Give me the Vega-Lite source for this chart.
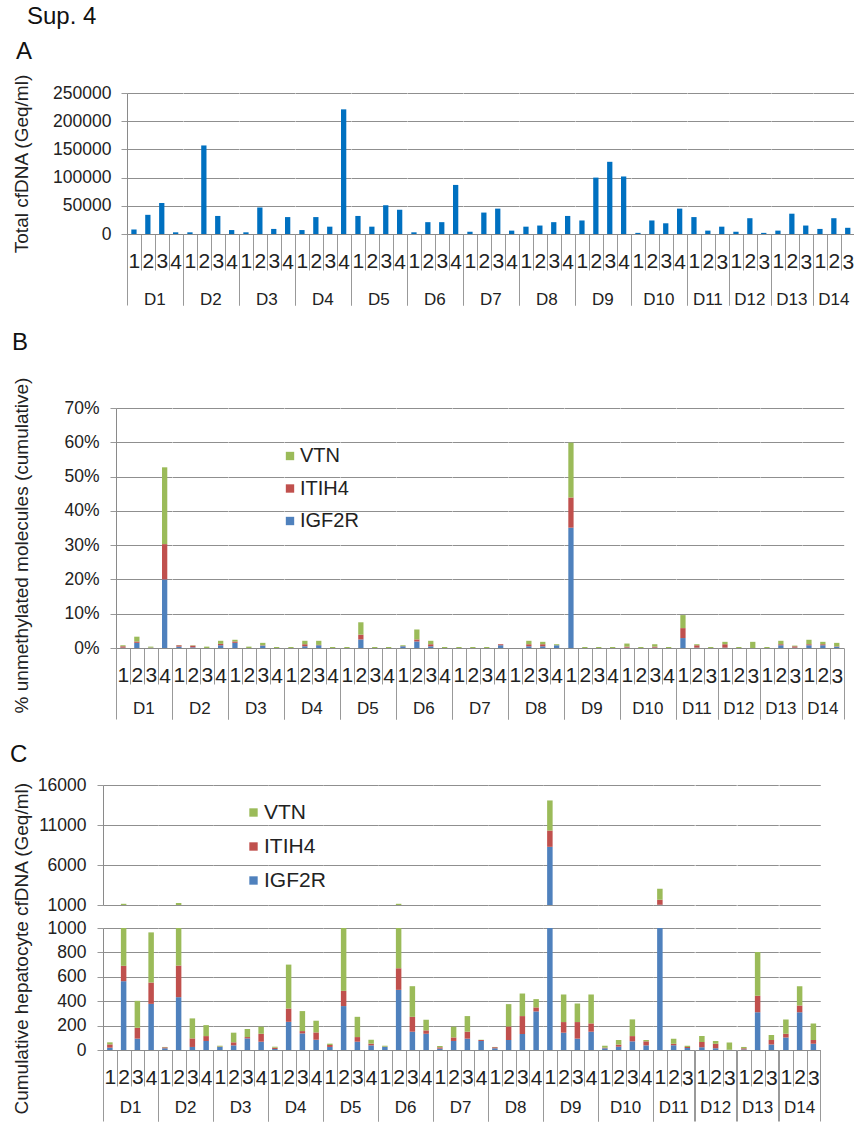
{
 "$schema": "https://vega.github.io/schema/vega-lite/v6.json",
 "padding": {"left": 10, "top": 4, "right": 0, "bottom": 0},
 "background": "white",
 "title": {"text": "Sup. 4", "anchor": "start", "frame": "bounds", "fontSize": 24, "fontWeight": "normal", "dx": 17, "offset": 11, "color": "#111"},
 "datasets": {
  "total": [
   {"g":"D1","s":"1","total":8000},{"g":"D1","s":"2","total":34000},{"g":"D1","s":"3","total":55000},{"g":"D1","s":"4","total":3000},
   {"g":"D2","s":"1","total":3000},{"g":"D2","s":"2","total":157000},{"g":"D2","s":"3","total":32000},{"g":"D2","s":"4","total":7000},
   {"g":"D3","s":"1","total":3000},{"g":"D3","s":"2","total":47000},{"g":"D3","s":"3","total":9000},{"g":"D3","s":"4","total":30000},
   {"g":"D4","s":"1","total":7000},{"g":"D4","s":"2","total":30000},{"g":"D4","s":"3","total":13000},{"g":"D4","s":"4","total":221000},
   {"g":"D5","s":"1","total":32000},{"g":"D5","s":"2","total":13000},{"g":"D5","s":"3","total":51000},{"g":"D5","s":"4","total":43000},
   {"g":"D6","s":"1","total":3000},{"g":"D6","s":"2","total":21000},{"g":"D6","s":"3","total":21000},{"g":"D6","s":"4","total":87000},
   {"g":"D7","s":"1","total":4000},{"g":"D7","s":"2","total":38000},{"g":"D7","s":"3","total":45000},{"g":"D7","s":"4","total":6000},
   {"g":"D8","s":"1","total":13000},{"g":"D8","s":"2","total":15000},{"g":"D8","s":"3","total":21000},{"g":"D8","s":"4","total":32000},
   {"g":"D9","s":"1","total":24000},{"g":"D9","s":"2","total":100000},{"g":"D9","s":"3","total":128000},{"g":"D9","s":"4","total":102000},
   {"g":"D10","s":"1","total":2000},{"g":"D10","s":"2","total":24000},{"g":"D10","s":"3","total":19000},{"g":"D10","s":"4","total":45000},
   {"g":"D11","s":"1","total":30000},{"g":"D11","s":"2","total":6000},{"g":"D11","s":"3","total":13000},
   {"g":"D12","s":"1","total":4000},{"g":"D12","s":"2","total":28000},{"g":"D12","s":"3","total":2000},
   {"g":"D13","s":"1","total":6000},{"g":"D13","s":"2","total":36000},{"g":"D13","s":"3","total":15000},
   {"g":"D14","s":"1","total":9000},{"g":"D14","s":"2","total":28000},{"g":"D14","s":"3","total":11000}
  ],
  "genes": [
   {"g":"D1","s":"1","gene":"IGF2R","pct":0.001,"geq":19},{"g":"D1","s":"1","gene":"ITIH4","pct":0.004,"geq":27},{"g":"D1","s":"1","gene":"VTN","pct":0.003,"geq":17},
   {"g":"D1","s":"2","gene":"IGF2R","pct":0.015,"geq":564},{"g":"D1","s":"2","gene":"ITIH4","pct":0.004,"geq":126},{"g":"D1","s":"2","gene":"VTN","pct":0.014,"geq":460},
   {"g":"D1","s":"3","gene":"IGF2R","pct":0.0005,"geq":93},{"g":"D1","s":"3","gene":"ITIH4","pct":0.0005,"geq":89},{"g":"D1","s":"3","gene":"VTN","pct":0.003,"geq":221},
   {"g":"D1","s":"4","gene":"IGF2R","pct":0.2,"geq":378},{"g":"D1","s":"4","gene":"ITIH4","pct":0.103,"geq":175},{"g":"D1","s":"4","gene":"VTN","pct":0.224,"geq":411},
   {"g":"D2","s":"1","gene":"IGF2R","pct":0.004,"geq":14},{"g":"D2","s":"1","gene":"ITIH4","pct":0.004,"geq":8},{"g":"D2","s":"1","gene":"VTN","pct":0.0005,"geq":3},
   {"g":"D2","s":"2","gene":"IGF2R","pct":0.002,"geq":433},{"g":"D2","s":"2","gene":"ITIH4","pct":0.005,"geq":259},{"g":"D2","s":"2","gene":"VTN","pct":0.001,"geq":558},
   {"g":"D2","s":"3","gene":"IGF2R","pct":0,"geq":25},{"g":"D2","s":"3","gene":"ITIH4","pct":0,"geq":70},{"g":"D2","s":"3","gene":"VTN","pct":0.004,"geq":164},
   {"g":"D2","s":"4","gene":"IGF2R","pct":0.008,"geq":74},{"g":"D2","s":"4","gene":"ITIH4","pct":0.004,"geq":40},{"g":"D2","s":"4","gene":"VTN","pct":0.009,"geq":90},
   {"g":"D3","s":"1","gene":"IGF2R","pct":0.015,"geq":25},{"g":"D3","s":"1","gene":"ITIH4","pct":0.004,"geq":3},{"g":"D3","s":"1","gene":"VTN","pct":0.005,"geq":7},
   {"g":"D3","s":"2","gene":"IGF2R","pct":0,"geq":38},{"g":"D3","s":"2","gene":"ITIH4","pct":0,"geq":25},{"g":"D3","s":"2","gene":"VTN","pct":0.004,"geq":79},
   {"g":"D3","s":"3","gene":"IGF2R","pct":0.007,"geq":95},{"g":"D3","s":"3","gene":"ITIH4","pct":0.001,"geq":11},{"g":"D3","s":"3","gene":"VTN","pct":0.007,"geq":66},
   {"g":"D3","s":"4","gene":"IGF2R","pct":0,"geq":68},{"g":"D3","s":"4","gene":"ITIH4","pct":0,"geq":65},{"g":"D3","s":"4","gene":"VTN","pct":0.003,"geq":58},
   {"g":"D4","s":"1","gene":"IGF2R","pct":0,"geq":8},{"g":"D4","s":"1","gene":"ITIH4","pct":0,"geq":11},{"g":"D4","s":"1","gene":"VTN","pct":0.003,"geq":8},
   {"g":"D4","s":"2","gene":"IGF2R","pct":0.005,"geq":231},{"g":"D4","s":"2","gene":"ITIH4","pct":0.006,"geq":109},{"g":"D4","s":"2","gene":"VTN","pct":0.01,"geq":360},
   {"g":"D4","s":"3","gene":"IGF2R","pct":0.008,"geq":136},{"g":"D4","s":"3","gene":"ITIH4","pct":0.001,"geq":19},{"g":"D4","s":"3","gene":"VTN","pct":0.012,"geq":164},
   {"g":"D4","s":"4","gene":"IGF2R","pct":0,"geq":84},{"g":"D4","s":"4","gene":"ITIH4","pct":0,"geq":60},{"g":"D4","s":"4","gene":"VTN","pct":0.003,"geq":96},
   {"g":"D5","s":"1","gene":"IGF2R","pct":0,"geq":25},{"g":"D5","s":"1","gene":"ITIH4","pct":0,"geq":16},{"g":"D5","s":"1","gene":"VTN","pct":0.003,"geq":11},
   {"g":"D5","s":"2","gene":"IGF2R","pct":0.025,"geq":360},{"g":"D5","s":"2","gene":"ITIH4","pct":0.014,"geq":125},{"g":"D5","s":"2","gene":"VTN","pct":0.036,"geq":515},
   {"g":"D5","s":"3","gene":"IGF2R","pct":0,"geq":68},{"g":"D5","s":"3","gene":"ITIH4","pct":0,"geq":38},{"g":"D5","s":"3","gene":"VTN","pct":0.003,"geq":166},
   {"g":"D5","s":"4","gene":"IGF2R","pct":0,"geq":38},{"g":"D5","s":"4","gene":"ITIH4","pct":0,"geq":14},{"g":"D5","s":"4","gene":"VTN","pct":0.003,"geq":32},
   {"g":"D6","s":"1","gene":"IGF2R","pct":0.005,"geq":25},{"g":"D6","s":"1","gene":"ITIH4","pct":0.0005,"geq":2},{"g":"D6","s":"1","gene":"VTN","pct":0.0025,"geq":8},
   {"g":"D6","s":"2","gene":"IGF2R","pct":0.019,"geq":493},{"g":"D6","s":"2","gene":"ITIH4","pct":0.006,"geq":177},{"g":"D6","s":"2","gene":"VTN","pct":0.029,"geq":480},
   {"g":"D6","s":"3","gene":"IGF2R","pct":0.005,"geq":150},{"g":"D6","s":"3","gene":"ITIH4","pct":0.006,"geq":122},{"g":"D6","s":"3","gene":"VTN","pct":0.01,"geq":251},
   {"g":"D6","s":"4","gene":"IGF2R","pct":0,"geq":133},{"g":"D6","s":"4","gene":"ITIH4","pct":0,"geq":28},{"g":"D6","s":"4","gene":"VTN","pct":0.003,"geq":87},
   {"g":"D7","s":"1","gene":"IGF2R","pct":0,"geq":11},{"g":"D7","s":"1","gene":"ITIH4","pct":0,"geq":11},{"g":"D7","s":"1","gene":"VTN","pct":0.003,"geq":11},
   {"g":"D7","s":"2","gene":"IGF2R","pct":0,"geq":74},{"g":"D7","s":"2","gene":"ITIH4","pct":0,"geq":29},{"g":"D7","s":"2","gene":"VTN","pct":0.003,"geq":88},
   {"g":"D7","s":"3","gene":"IGF2R","pct":0,"geq":93},{"g":"D7","s":"3","gene":"ITIH4","pct":0,"geq":57},{"g":"D7","s":"3","gene":"VTN","pct":0.003,"geq":128},
   {"g":"D7","s":"4","gene":"IGF2R","pct":0.008,"geq":74},{"g":"D7","s":"4","gene":"ITIH4","pct":0.003,"geq":8},{"g":"D7","s":"4","gene":"VTN","pct":0,"geq":2},
   {"g":"D8","s":"1","gene":"IGF2R","pct":0,"geq":14},{"g":"D8","s":"1","gene":"ITIH4","pct":0,"geq":9},{"g":"D8","s":"1","gene":"VTN","pct":0,"geq":2},
   {"g":"D8","s":"2","gene":"IGF2R","pct":0.005,"geq":82},{"g":"D8","s":"2","gene":"ITIH4","pct":0.006,"geq":111},{"g":"D8","s":"2","gene":"VTN","pct":0.01,"geq":183},
   {"g":"D8","s":"3","gene":"IGF2R","pct":0.005,"geq":131},{"g":"D8","s":"3","gene":"ITIH4","pct":0.006,"geq":147},{"g":"D8","s":"3","gene":"VTN","pct":0.007,"geq":185},
   {"g":"D8","s":"4","gene":"IGF2R","pct":0.008,"geq":316},{"g":"D8","s":"4","gene":"ITIH4","pct":0,"geq":33},{"g":"D8","s":"4","gene":"VTN","pct":0.003,"geq":68},
   {"g":"D9","s":"1","gene":"IGF2R","pct":0.351,"geq":8270},{"g":"D9","s":"1","gene":"ITIH4","pct":0.088,"geq":2040},{"g":"D9","s":"1","gene":"VTN","pct":0.16,"geq":3760},
   {"g":"D9","s":"2","gene":"IGF2R","pct":0,"geq":142},{"g":"D9","s":"2","gene":"ITIH4","pct":0,"geq":87},{"g":"D9","s":"2","gene":"VTN","pct":0.003,"geq":226},
   {"g":"D9","s":"3","gene":"IGF2R","pct":0,"geq":93},{"g":"D9","s":"3","gene":"ITIH4","pct":0,"geq":136},{"g":"D9","s":"3","gene":"VTN","pct":0.003,"geq":152},
   {"g":"D9","s":"4","gene":"IGF2R","pct":0,"geq":150},{"g":"D9","s":"4","gene":"ITIH4","pct":0,"geq":68},{"g":"D9","s":"4","gene":"VTN","pct":0.003,"geq":237},
   {"g":"D10","s":"1","gene":"IGF2R","pct":0.001,"geq":14},{"g":"D10","s":"1","gene":"ITIH4","pct":0.003,"geq":5},{"g":"D10","s":"1","gene":"VTN","pct":0.009,"geq":16},
   {"g":"D10","s":"2","gene":"IGF2R","pct":0,"geq":27},{"g":"D10","s":"2","gene":"ITIH4","pct":0,"geq":17},{"g":"D10","s":"2","gene":"VTN","pct":0.003,"geq":38},
   {"g":"D10","s":"3","gene":"IGF2R","pct":0.001,"geq":71},{"g":"D10","s":"3","gene":"ITIH4","pct":0.003,"geq":43},{"g":"D10","s":"3","gene":"VTN","pct":0.007,"geq":137},
   {"g":"D10","s":"4","gene":"IGF2R","pct":0,"geq":38},{"g":"D10","s":"4","gene":"ITIH4","pct":0,"geq":33},{"g":"D10","s":"4","gene":"VTN","pct":0.003,"geq":11},
   {"g":"D11","s":"1","gene":"IGF2R","pct":0.029,"geq":1020},{"g":"D11","s":"1","gene":"ITIH4","pct":0.029,"geq":640},{"g":"D11","s":"1","gene":"VTN","pct":0.038,"geq":1380},
   {"g":"D11","s":"2","gene":"IGF2R","pct":0.001,"geq":38},{"g":"D11","s":"2","gene":"ITIH4","pct":0.007,"geq":14},{"g":"D11","s":"2","gene":"VTN","pct":0.003,"geq":41},
   {"g":"D11","s":"3","gene":"IGF2R","pct":0,"geq":16},{"g":"D11","s":"3","gene":"ITIH4","pct":0,"geq":9},{"g":"D11","s":"3","gene":"VTN","pct":0.003,"geq":10},
   {"g":"D12","s":"1","gene":"IGF2R","pct":0.001,"geq":22},{"g":"D12","s":"1","gene":"ITIH4","pct":0.01,"geq":43},{"g":"D12","s":"1","gene":"VTN","pct":0.007,"geq":49},
   {"g":"D12","s":"2","gene":"IGF2R","pct":0,"geq":14},{"g":"D12","s":"2","gene":"ITIH4","pct":0,"geq":38},{"g":"D12","s":"2","gene":"VTN","pct":0.003,"geq":22},
   {"g":"D12","s":"3","gene":"IGF2R","pct":0,"geq":2},{"g":"D12","s":"3","gene":"ITIH4","pct":0,"geq":0},{"g":"D12","s":"3","gene":"VTN","pct":0.018,"geq":60},
   {"g":"D13","s":"1","gene":"IGF2R","pct":0,"geq":5},{"g":"D13","s":"1","gene":"ITIH4","pct":0,"geq":9},{"g":"D13","s":"1","gene":"VTN","pct":0.003,"geq":11},
   {"g":"D13","s":"2","gene":"IGF2R","pct":0.008,"geq":310},{"g":"D13","s":"2","gene":"ITIH4","pct":0.003,"geq":134},{"g":"D13","s":"2","gene":"VTN","pct":0.01,"geq":359},
   {"g":"D13","s":"3","gene":"IGF2R","pct":0.001,"geq":46},{"g":"D13","s":"3","gene":"ITIH4","pct":0.004,"geq":36},{"g":"D13","s":"3","gene":"VTN","pct":0.002,"geq":41},
   {"g":"D14","s":"1","gene":"IGF2R","pct":0.008,"geq":103},{"g":"D14","s":"1","gene":"ITIH4","pct":0.003,"geq":30},{"g":"D14","s":"1","gene":"VTN","pct":0.013,"geq":118},
   {"g":"D14","s":"2","gene":"IGF2R","pct":0.008,"geq":310},{"g":"D14","s":"2","gene":"ITIH4","pct":0.003,"geq":55},{"g":"D14","s":"2","gene":"VTN","pct":0.007,"geq":158},
   {"g":"D14","s":"3","gene":"IGF2R","pct":0.004,"geq":52},{"g":"D14","s":"3","gene":"ITIH4","pct":0.001,"geq":30},{"g":"D14","s":"3","gene":"VTN","pct":0.01,"geq":136}
  ]
 },
 "concat": [
  {
   "title": {"text": "A", "anchor": "start", "frame": "bounds", "fontSize": 24, "fontWeight": "normal", "offset": 10, "dx": 5, "color": "#111"},
   "spacing": 0,
   "hconcat": [
    {"data": {"values": []}, "mark": {"type": "point"}, "encoding": {}, "width": 1, "height": 1},
    {
     "data": {"name": "total"},
     "facet": {"column": {"field": "g", "title": null, "sort": ["D1","D2","D3","D4","D5","D6","D7","D8","D9","D10","D11","D12","D13","D14"], "header": {"labelOrient": "bottom", "labelPadding": 58}}},
     "spacing": 0,
     "bounds": "flush",
     "resolve": {"scale": {"x": "independent"}},
     "spec": {
      "width": {"step": 13.9},
      "height": 141,
      "mark": {"type": "bar", "color": "#0070C0", "width": {"band": 0.38}},
      "encoding": {
       "x": {"field": "s", "type": "nominal", "scale": {"paddingInner": 0, "paddingOuter": 0},
        "axis": {"title": null, "labelAngle": 0, "tickBand": "extent", "labelFontSize": 21, "labelBaseline": "top",
         "labelPadding": {"condition": {"test": "datum.index < 0 || datum.index >= 1", "value": -54}, "value": -20},
         "tickSize": {"condition": {"test": "datum.index < 0 || datum.index >= 1", "value": 71}, "value": 36}}},
       "y": {"field": "total", "type": "quantitative", "scale": {"domain": [0, 250000]},
        "axis": {"values": [0, 50000, 100000, 150000, 200000, 250000], "format": "d", "title": "Total cfDNA (Geq/ml)", "titlePadding": 21}}
      }
     }
    }
   ]
  },
  {
   "title": {"text": "B", "anchor": "start", "frame": "bounds", "fontSize": 24, "fontWeight": "normal", "offset": 19, "dx": 1, "color": "#111"},
   "spacing": 0,
   "resolve": {"scale": {"color": "independent"}, "legend": {"color": "independent"}},
   "hconcat": [
    {"data": {"values": []}, "mark": {"type": "point"}, "encoding": {}, "width": 1, "height": 1},
    {
     "data": {"name": "genes"},
     "facet": {"column": {"field": "g", "title": null, "sort": ["D1","D2","D3","D4","D5","D6","D7","D8","D9","D10","D11","D12","D13","D14"], "header": {"labelOrient": "bottom", "labelPadding": 53}}},
     "spacing": 0,
     "bounds": "flush",
     "resolve": {"scale": {"x": "independent"}},
     "spec": {
      "width": {"step": 13.9},
      "height": 240,
      "mark": {"type": "bar", "width": {"band": 0.38}},
      "encoding": {
       "x": {"field": "s", "type": "nominal", "scale": {"paddingInner": 0, "paddingOuter": 0},
        "axis": {"title": null, "labelAngle": 0, "tickBand": "extent", "labelFontSize": 21, "labelBaseline": "top",
         "labelPadding": {"condition": {"test": "datum.index < 0 || datum.index >= 1", "value": -54}, "value": -20},
         "tickSize": {"condition": {"test": "datum.index < 0 || datum.index >= 1", "value": 71}, "value": 36}}},
       "y": {"field": "pct", "type": "quantitative", "stack": "zero", "scale": {"domain": [0, 0.7]},
        "axis": {"values": [0, 0.1, 0.2, 0.3, 0.4, 0.5, 0.6, 0.7], "format": ".0%", "title": "% unmethylated  molecules (cumulative)", "titlePadding": 32, "titleY": 137, "labelPadding": 11}},
       "color": {"field": "gene", "type": "nominal", "scale": {"domain": ["VTN", "ITIH4", "IGF2R"], "range": ["#9BBB59", "#C0504D", "#4F81BD"]},
        "legend": {"title": null, "orient": "none", "legendX": 164, "legendY": 38, "labelFontSize": 20, "symbolType": "square", "symbolSize": 70, "rowPadding": 12.5, "labelOffset": 0, "symbolStrokeWidth": 0}},
       "order": {"field": "gene", "sort": "ascending"}
      }
     }
    }
   ]
  },
  {
   "title": {"text": "C", "anchor": "start", "frame": "bounds", "fontSize": 24, "fontWeight": "normal", "offset": 9, "dx": -1, "color": "#111"},
   "spacing": 0,
   "resolve": {"scale": {"color": "independent"}, "legend": {"color": "independent"}},
   "hconcat": [
    {"data": {"values": []}, "mark": {"type": "point"}, "encoding": {}, "width": 1, "height": 1},
    {
     "title": {"text": "Cumulative  hepatocyte  cfDNA (Geq/ml)", "orient": "left", "anchor": "middle", "frame": "bounds", "fontSize": 19, "fontWeight": "normal", "offset": 5.5, "color": "#222"},
     "resolve": {"scale": {"color": "independent"}, "legend": {"color": "independent"}},
     "spacing": 5,
     "vconcat": [
      {
       "data": {"name": "genes"},
       "facet": {"column": {"field": "g", "title": null, "sort": ["D1","D2","D3","D4","D5","D6","D7","D8","D9","D10","D11","D12","D13","D14"], "header": {"labels": false}}},
       "spacing": 0,
       "bounds": "flush",
       "resolve": {"scale": {"x": "independent"}},
       "spec": {
        "width": {"step": 13.75},
        "height": 120,
        "mark": {"type": "bar", "width": {"band": 0.4}, "clip": true},
        "encoding": {
         "x": {"field": "s", "type": "nominal", "scale": {"paddingInner": 0, "paddingOuter": 0}, "axis": null},
         "y": {"field": "geq", "type": "quantitative", "stack": "zero", "scale": {"domain": [1000, 16000]},
          "axis": {"values": [1000, 6000, 11000, 16000], "format": "d", "title": null, "labelPadding": 11}},
         "color": {"field": "gene", "type": "nominal", "scale": {"domain": ["VTN", "ITIH4", "IGF2R"], "range": ["#9BBB59", "#C0504D", "#4F81BD"]},
          "legend": {"title": null, "orient": "none", "legendX": 140, "legendY": 17, "labelFontSize": 21, "symbolType": "square", "symbolSize": 70, "rowPadding": 12, "labelOffset": 0, "symbolStrokeWidth": 0}},
         "order": {"field": "gene", "sort": "ascending"}
        }
       }
      },
      {
       "data": {"name": "genes"},
       "facet": {"column": {"field": "g", "title": null, "sort": ["D1","D2","D3","D4","D5","D6","D7","D8","D9","D10","D11","D12","D13","D14"], "header": {"labelOrient": "bottom", "labelPadding": 50}}},
       "spacing": 0,
       "bounds": "flush",
       "resolve": {"scale": {"x": "independent"}},
       "spec": {
        "width": {"step": 13.75},
        "height": 122,
        "mark": {"type": "bar", "width": {"band": 0.4}, "clip": true},
        "encoding": {
         "x": {"field": "s", "type": "nominal", "scale": {"paddingInner": 0, "paddingOuter": 0},
          "axis": {"title": null, "labelAngle": 0, "tickBand": "extent", "labelFontSize": 21, "labelBaseline": "top",
           "labelPadding": {"condition": {"test": "datum.index < 0 || datum.index >= 1", "value": -54}, "value": -20},
           "tickSize": {"condition": {"test": "datum.index < 0 || datum.index >= 1", "value": 71}, "value": 36}}},
         "y": {"field": "geq", "type": "quantitative", "stack": "zero", "scale": {"domain": [0, 1000]},
          "axis": {"values": [0, 200, 400, 600, 800, 1000], "format": "d", "title": null, "labelPadding": 11}},
         "color": {"field": "gene", "type": "nominal", "scale": {"domain": ["VTN", "ITIH4", "IGF2R"], "range": ["#9BBB59", "#C0504D", "#4F81BD"]}, "legend": null},
         "order": {"field": "gene", "sort": "ascending"}
        }
       }
      }
     ]
    }
   ]
  }
 ],
 "columns": 1,
 "spacing": 23,
 "resolve": {"legend": {"color": "independent"}, "scale": {"color": "independent"}},
 "config": {
  "font": "Liberation Sans",
  "view": {"stroke": null},
  "axis": {"domainColor": "#8a8a8a", "tickColor": "#999", "gridColor": "#8f8f8f", "labelColor": "#222", "titleColor": "#222", "titleFontWeight": "normal", "labelFont": "Liberation Sans", "titleFont": "Liberation Sans"},
  "axisX": {"grid": false},
  "axisY": {"labelFontSize": 17.5, "titleFontSize": 19, "tickSize": 6, "labelPadding": 10, "grid": true, "domain": true},
  "header": {"labelFontSize": 17, "labelColor": "#222", "labelFont": "Liberation Sans"},
  "legend": {"labelColor": "#222", "labelFont": "Liberation Sans", "padding": 0}
 }
}
